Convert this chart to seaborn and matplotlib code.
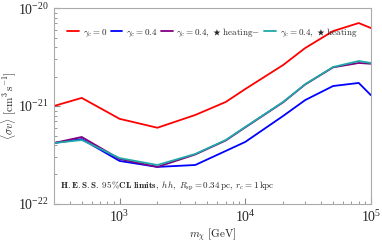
import numpy as np
import pandas as pd
import matplotlib
matplotlib.use("Agg")
import matplotlib.pyplot as plt
import seaborn as sns

# DM masses [GeV]
masses = [300, 500, 1000, 2000, 4000, 7000, 10000, 20000, 30000, 50000, 80000, 100000]

# <sigma v> limits [cm^3 s^-1]
sv_g0 = [1.0e-21, 1.21e-21, 7.4e-22, 6.0e-22, 8.1e-22, 1.10e-21, 1.49e-21,
         2.62e-21, 3.91e-21, 5.82e-21, 7.03e-21, 6.25e-21]
sv_g04 = [4.19e-22, 4.60e-22, 2.75e-22, 2.39e-22, 2.50e-22, 3.48e-22, 4.30e-22,
          7.91e-22, 1.15e-21, 1.60e-21, 1.72e-21, 1.29e-21]
sv_g04_heat_minus = [4.19e-22, 4.83e-22, 2.88e-22, 2.39e-22, 3.20e-22, 4.45e-22, 6.05e-22,
                     1.09e-21, 1.66e-21, 2.48e-21, 2.75e-21, 2.70e-21]
sv_g04_heat = [4.19e-22, 4.50e-22, 2.94e-22, 2.50e-22, 3.24e-22, 4.50e-22, 6.11e-22,
               1.10e-21, 1.67e-21, 2.50e-21, 2.88e-21, 2.75e-21]

labels = [r"$\gamma_c = 0$", r"$\gamma_c = 0.4$",
          r"$\gamma_c = 0.4,\ \bigstar\ \mathrm{heating}{-}$",
          r"$\gamma_c = 0.4,\ \bigstar\ \mathrm{heating}$"]
colors = ["#ff0000", "#0000ff", "#800080", "#1fa8a8"]

df = pd.concat([
    pd.DataFrame({"m": masses, "sv": s, "model": lab})
    for s, lab in zip([sv_g0, sv_g04, sv_g04_heat_minus, sv_g04_heat], labels)
])

sns.set_style("ticks")
plt.rcParams['font.family'] = ['Liberation Serif', 'DejaVu Sans']
plt.rcParams['mathtext.fontset'] = 'cm'
plt.rcParams['axes.formatter.use_mathtext'] = True

fig = plt.figure(figsize=(3.82, 2.44), dpi=100)
ax = fig.add_axes([0.141, 0.164, 0.830, 0.803])

sns.lineplot(data=df, x="m", y="sv", hue="model", palette=dict(zip(labels, colors)),
             hue_order=labels, lw=1.3, ax=ax, legend=False)

ax.set_xscale("log")
ax.set_yscale("log")
ax.set_xlim(300, 1e5)
ax.set_ylim(1e-22, 1e-20)

for s in ax.spines.values():
    s.set_color("#aaaaaa")
ax.tick_params(which="both", direction="in", top=False, right=False, color="#888888",
               labelsize=10)
ax.tick_params(which="major", length=4)
ax.tick_params(which="minor", length=2)

ax.set_xlabel(r"$m_\chi\ [\mathrm{GeV}]$", fontsize=8, labelpad=1)
ax.set_ylabel(r"$\langle\sigma v\rangle\ [\mathrm{cm}^3\,\mathrm{s}^{-1}]$", fontsize=8,
              labelpad=0)

handles = [plt.Line2D([], [], color=c, lw=1.3) for c in colors]
ax.legend(handles, labels, loc="upper center", ncol=4, frameon=False, fontsize=6.5,
          handlelength=1.3, handletextpad=0.4, columnspacing=0.4,
          bbox_to_anchor=(0.5, 0.95))

ax.text(0.02, 0.08,
        r"$\mathbf{H.E.S.S.\ 95\%CL\ limits},\ hh,\ R_{\rm sp}=0.34\,{\rm pc},\ r_c=1\,{\rm kpc}$",
        transform=ax.transAxes, fontsize=6.5)

fig.savefig("out.png", dpi=100)
